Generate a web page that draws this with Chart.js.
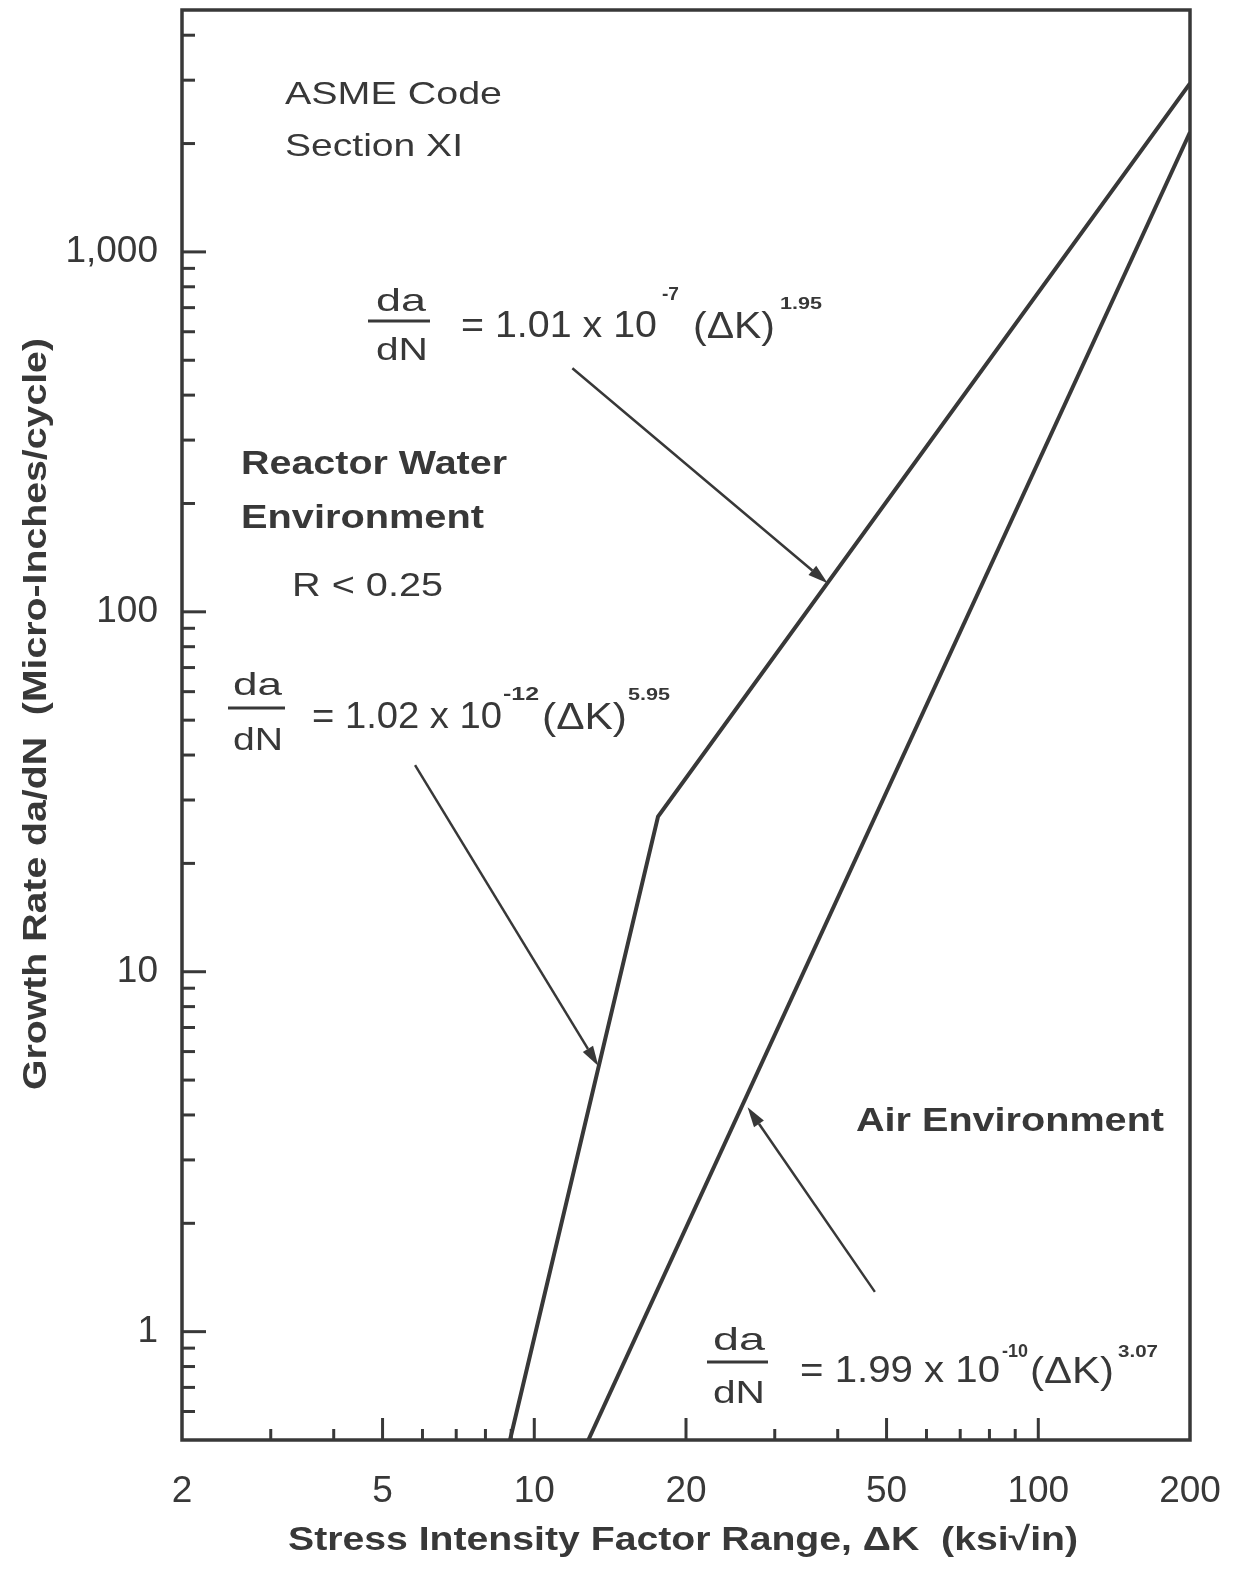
<!DOCTYPE html>
<html><head><meta charset="utf-8">
<script src="https://cdn.jsdelivr.net/npm/chart.js@4.4.1/dist/chart.umd.min.js"></script>
<style>html,body{margin:0;padding:0;background:#fff;overflow:hidden}canvas{display:block}</style>
</head><body>
<canvas id="c" width="1237" height="1569"></canvas>
<script>
// ---- Data (ΔK in ksi√in, da/dN in micro-inches/cycle) ----
const reactorDeltaK = [8.95, 17.6, 200];
const reactorRate   = [0.5, 27, 2940];
const airDeltaK     = [12.8, 200];
const airRate       = [0.5, 2150];

// ---- Axis ranges & ticks ----
const xMin = 2, xMax = 200;
const yMin = 0.5, yMax = 4700;
const xLabelTicks = [2, 5, 10, 20, 50, 100, 200];
const xMajorTicks = [5, 10, 20, 50, 100];
const xMinorTicks = [3, 4, 6, 7, 8, 9, 30, 40, 60, 70, 80, 90];
const yLabelTicks = [1, 10, 100, 1000];
const yMajorTicks = [1, 10, 100, 1000];
const yMinorTicks = [0.6, 0.7, 0.8, 0.9, 2, 3, 4, 5, 6, 7, 8, 9, 20, 30, 40, 50, 60, 70, 80, 90,
                     200, 300, 400, 500, 600, 700, 800, 900, 2000, 3000, 4000];

// ---- Annotation arrows (tail -> head) in data units ----
const arrowTailK    = [11.9, 5.8, 47.4];
const arrowTailRate = [475, 37.5, 1.29];
const arrowHeadK    = [38.2, 13.4, 26.5];
const arrowHeadRate = [120, 5.47, 4.2];

const INK = '#383838';
const FONT = "'Liberation Sans', Arial, Helvetica, sans-serif";

function txt(ctx, s, x, y, size, weight, width) {
  ctx.save();
  ctx.font = (weight || 'normal') + ' ' + size + 'px ' + FONT;
  ctx.fillStyle = INK;
  ctx.textAlign = 'left';
  ctx.textBaseline = 'alphabetic';
  const w = ctx.measureText(s).width;
  const sx = width ? width / w : 1;
  ctx.translate(x, y);
  ctx.scale(sx, 1);
  ctx.fillText(s, 0, 0);
  ctx.restore();
}
function bar(ctx, x1, x2, y) {
  ctx.save(); ctx.strokeStyle = INK; ctx.lineWidth = 3;
  ctx.beginPath(); ctx.moveTo(x1, y); ctx.lineTo(x2, y); ctx.stroke(); ctx.restore();
}

// text annotations: [text, left, baseline, size, weight, width]
const labels = [
  ['ASME Code', 285, 104, 32, 'normal', 217],
  ['Section XI', 285, 156, 32, 'normal', 178],
  ['Reactor Water', 241, 474, 33, 'bold', 266],
  ['Environment', 241, 528, 33, 'bold', 243],
  ['R < 0.25', 292, 596, 34, 'normal', 151],
  ['Air Environment', 856, 1131, 33, 'bold', 308],
  // upper equation
  ['da', 376, 311, 32, 'normal', 50],
  ['dN', 376, 360, 32, 'normal', 52],
  ['= 1.01 x 10', 461, 337, 36, 'normal', 196],
  ['-7', 662, 300, 18, 'bold', 17],
  ['(ΔK)', 693, 338, 36, 'normal', 82],
  ['1.95', 780, 309, 17, 'bold', 42],
  // reactor lower equation
  ['da', 233, 695, 32, 'normal', 49],
  ['dN', 233, 750, 32, 'normal', 50],
  ['= 1.02 x 10', 312, 728, 36, 'normal', 190],
  ['-12', 503, 700, 18, 'bold', 36],
  ['(ΔK)', 542, 729, 36, 'normal', 85],
  ['5.95', 628, 700, 17, 'bold', 42],
  // air equation
  ['da', 713, 1350, 32, 'normal', 52],
  ['dN', 713, 1403, 32, 'normal', 52],
  ['= 1.99 x 10', 800, 1382, 36, 'normal', 200],
  ['-10', 1002, 1357, 18, 'bold', 26],
  ['(ΔK)', 1030, 1383, 36, 'normal', 84],
  ['3.07', 1118, 1357, 17, 'bold', 40]
];
const fractionBars = [[368, 430, 321], [228, 285, 708], [707, 768, 1362]];

const decorPlugin = {
  id: 'decor',
  beforeDatasetsDraw(chart) {
    const ctx = chart.ctx, a = chart.chartArea;
    const xs = chart.scales.x, ys = chart.scales.y;
    ctx.save();
    ctx.strokeStyle = INK;
    ctx.lineCap = 'butt';
    ctx.lineWidth = 3;
    yMajorTicks.forEach(v => { const p = ys.getPixelForValue(v); ctx.beginPath(); ctx.moveTo(a.left, p); ctx.lineTo(a.left + 24, p); ctx.stroke(); });
    yMinorTicks.forEach(v => { const p = ys.getPixelForValue(v); ctx.beginPath(); ctx.moveTo(a.left, p); ctx.lineTo(a.left + 13, p); ctx.stroke(); });
    xMajorTicks.forEach(v => { const p = xs.getPixelForValue(v); ctx.beginPath(); ctx.moveTo(p, a.bottom); ctx.lineTo(p, a.bottom - 22); ctx.stroke(); });
    xMinorTicks.forEach(v => { const p = xs.getPixelForValue(v); ctx.beginPath(); ctx.moveTo(p, a.bottom); ctx.lineTo(p, a.bottom - 11); ctx.stroke(); });
    ctx.lineWidth = 3.5;
    ctx.strokeRect(a.left, a.top, a.right - a.left, a.bottom - a.top);
    ctx.restore();
  },
  afterDatasetsDraw(chart) {
    const ctx = chart.ctx;
    const xs = chart.scales.x, ys = chart.scales.y;
    ctx.save();
    ctx.strokeStyle = INK; ctx.fillStyle = INK; ctx.lineWidth = 2.5;
    for (let i = 0; i < arrowTailK.length; i++) {
      const x1 = xs.getPixelForValue(arrowTailK[i]), y1 = ys.getPixelForValue(arrowTailRate[i]);
      const x2 = xs.getPixelForValue(arrowHeadK[i]), y2 = ys.getPixelForValue(arrowHeadRate[i]);
      const ang = Math.atan2(y2 - y1, x2 - x1);
      const L = 20, W = 6;
      const bx = x2 - L * Math.cos(ang), by = y2 - L * Math.sin(ang);
      ctx.beginPath(); ctx.moveTo(x1, y1); ctx.lineTo(bx, by); ctx.stroke();
      ctx.beginPath();
      ctx.moveTo(x2, y2);
      ctx.lineTo(bx + W * Math.sin(ang), by - W * Math.cos(ang));
      ctx.lineTo(bx - W * Math.sin(ang), by + W * Math.cos(ang));
      ctx.closePath(); ctx.fill();
    }
    ctx.restore();
    labels.forEach(l => txt(ctx, l[0], l[1], l[2], l[3], l[4], l[5]));
    fractionBars.forEach(b => bar(ctx, b[0], b[1], b[2]));
    txt(ctx, 'Stress Intensity Factor Range, \u0394K  (ksi\u221Ain)', 288, 1550, 33, 'bold', 790);
    ctx.save();
    ctx.translate(46, 1090);
    ctx.rotate(-Math.PI / 2);
    txt(ctx, 'Growth Rate da/dN  (Micro-Inches/cycle)', 0, 0, 33, 'bold', 752);
    ctx.restore();
  }
};

const toPoints = (xs, ys) => xs.map((x, i) => ({ x: x, y: ys[i] }));

new Chart(document.getElementById('c'), {
  type: 'line',
  data: {
    datasets: [
      { label: 'Reactor Water Environment', data: toPoints(reactorDeltaK, reactorRate) },
      { label: 'Air Environment', data: toPoints(airDeltaK, airRate) }
    ]
  },
  options: {
    responsive: false,
    animation: false,
    devicePixelRatio: 1,
    layout: { padding: { left: 0, right: 47, top: 10, bottom: 0 } },
    elements: {
      line: { borderColor: INK, borderWidth: 4, tension: 0, fill: false, borderCapStyle: 'butt', borderJoinStyle: 'miter' },
      point: { radius: 0, hoverRadius: 0 }
    },
    plugins: { legend: { display: false }, tooltip: { enabled: false } },
    scales: {
      x: {
        type: 'logarithmic', min: xMin, max: xMax,
        grid: { display: false, drawTicks: false },
        border: { display: false },
        afterBuildTicks: s => { s.ticks = xLabelTicks.map(v => ({ value: v })); },
        afterFit: s => { s.height = 129; s.paddingLeft = 0; s.paddingRight = 0; s.paddingTop = 0; s.paddingBottom = 0; },
        ticks: { autoSkip: false, maxRotation: 0, padding: 30, color: INK,
          font: { family: FONT, size: 37 }, callback: v => String(v) }
      },
      y: {
        type: 'logarithmic', min: yMin, max: yMax,
        grid: { display: false, drawTicks: false },
        border: { display: false },
        afterBuildTicks: s => { s.ticks = yLabelTicks.map(v => ({ value: v })); },
        afterFit: s => { s.width = 182; s.paddingLeft = 0; s.paddingRight = 0; s.paddingTop = 0; s.paddingBottom = 0; },
        ticks: { autoSkip: false, padding: 24, color: INK,
          font: { family: FONT, size: 37 }, callback: v => Number(v).toLocaleString('en-US') }
      }
    }
  },
  plugins: [decorPlugin]
});
</script>
</body></html>
